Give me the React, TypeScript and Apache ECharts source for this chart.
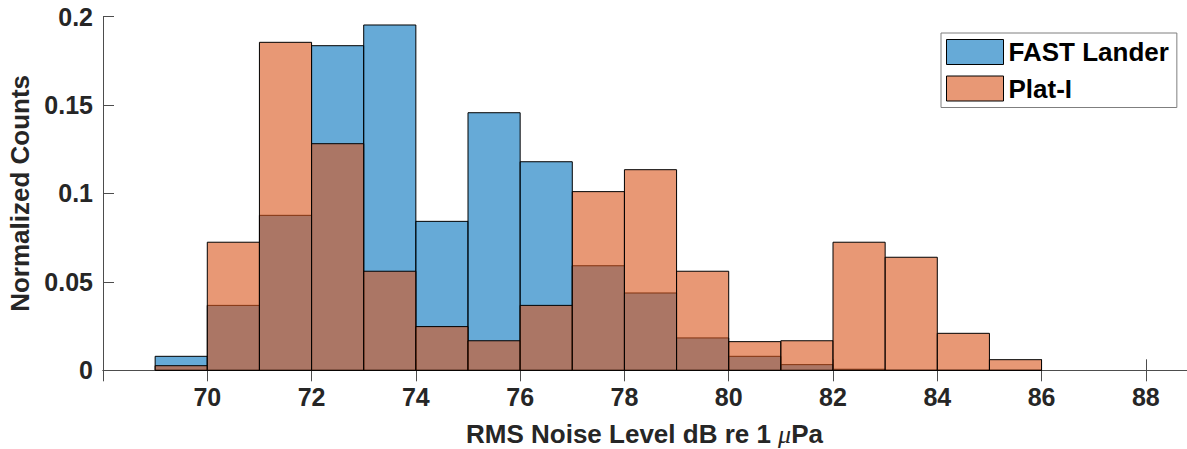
import React, { useEffect, useRef } from "react";
import * as echarts from "echarts";

const binStarts = [69, 70, 71, 72, 73, 74, 75, 76, 77, 78, 79, 80, 81, 82, 83, 84, 85];
const binWidth = 1;
const fastLander = [0.0079, 0.0367, 0.0876, 0.1835, 0.1952, 0.0842, 0.1456, 0.1179, 0.0591, 0.0437, 0.0183, 0.0079, 0.0032, 0.0006, 0, 0, 0];
const platI = [0.0026, 0.0724, 0.1854, 0.1281, 0.056, 0.0247, 0.0167, 0.0367, 0.101, 0.1134, 0.056, 0.0162, 0.0167, 0.0724, 0.0639, 0.0209, 0.006];
const seriesNames = ["FAST Lander", "Plat-I"];
const xTickLabels = [70, 72, 74, 76, 78, 80, 82, 84, 86, 88];

const BLUE = "rgba(0,114,189,0.6)";
const ORANGE = "rgba(217,83,25,0.6)";
const FONT = "'Liberation Sans', Arial, Helvetica, sans-serif";
const AXC = "#4d4d4d";
const TXT = "#262626";

function histData(vals: number[]) {
  return binStarts.map((s, i) => [s, s + binWidth, vals[i]]);
}

function renderBar(fill: string) {
  return (params: any, api: any) => {
    const x0 = api.value(0);
    const x1 = api.value(1);
    const v = api.value(2);
    const p0 = api.coord([x0, v]);
    const p1 = api.coord([x1, 0]);
    return {
      type: "rect",
      shape: { x: p0[0], y: p0[1], width: p1[0] - p0[0], height: p1[1] - p0[1] },
      style: { fill, stroke: "#000", lineWidth: 1 },
    };
  };
}

export default function App() {
  const ref = useRef<HTMLDivElement>(null);
  useEffect(() => {
    document.body.style.margin = "0";
    const chart = echarts.init(ref.current!, null, { renderer: "svg" });
    const xBase = {
      type: "value" as const,
      min: 68,
      max: 89,
      interval: 2,
      axisLine: { show: true, lineStyle: { color: AXC, width: 1 } },
      splitLine: { show: false },
    };
    const yBase = {
      type: "value" as const,
      min: 0,
      max: 0.2,
      interval: 0.05,
      axisLine: { show: true, lineStyle: { color: AXC, width: 1 } },
      splitLine: { show: false },
    };
    chart.setOption({
      animation: false,
      backgroundColor: "#fff",
      grid: { left: 103, right: -11, top: 16.5, bottom: 78.7, containLabel: false, outerBoundsMode: "none" },
      legend: {
        data: [
          { name: seriesNames[0], itemStyle: { color: BLUE, borderColor: "#000", borderWidth: 1 } },
          { name: seriesNames[1], itemStyle: { color: ORANGE, borderColor: "#000", borderWidth: 1 } },
        ],
        icon: "rect",
        orient: "vertical",
        left: 941,
        top: 33,
        itemWidth: 57,
        itemHeight: 25,
        itemGap: 10.5,
        padding: [6, 8, 6, 5],
        borderColor: "#7f7f7f",
        borderWidth: 1,
        backgroundColor: "#fff",
        textStyle: { fontFamily: FONT, fontWeight: "bold", fontSize: 26, color: "#000", padding: [0, 0, 0, 0], lineHeight: 25 },
        itemTextGap: 5,
      },
      xAxis: [
        {
          ...xBase,
          position: "bottom",
          axisTick: { show: true, inside: true, length: 11, lineStyle: { color: AXC } },
          axisLabel: {
            show: true,
            margin: 14,
            fontFamily: FONT,
            fontWeight: "bold",
            fontSize: 25,
            color: TXT,
            formatter: (v: number) => (xTickLabels.indexOf(v) >= 0 ? String(v) : ""),
          },
          name: "RMS Noise Level dB re 1 {mu|μ}Pa",
          nameLocation: "middle",
          nameGap: 51,
          nameTextStyle: {
            fontFamily: FONT,
            fontWeight: "bold",
            fontSize: 26,
            color: TXT,
            padding: [0, 12, 0, 0],
            rich: {
              mu: { fontFamily: "'Liberation Serif', 'DejaVu Serif', serif", fontStyle: "italic", fontWeight: "normal", fontSize: 26, color: TXT },
            },
          },
        },
        {
          ...xBase,
          position: "top",
          axisTick: { show: true, inside: true, length: 11, lineStyle: { color: AXC } },
          axisLabel: { show: false },
        },
      ],
      yAxis: [
        {
          ...yBase,
          position: "left",
          axisTick: { show: true, inside: true, length: 11, lineStyle: { color: AXC } },
          axisLabel: { show: true, margin: 10, fontFamily: FONT, fontWeight: "bold", fontSize: 25, color: TXT },
          name: "Normalized Counts",
          nameLocation: "middle",
          nameGap: 66,
          nameTextStyle: { fontFamily: FONT, fontWeight: "bold", fontSize: 26, color: TXT },
        },
        {
          ...yBase,
          position: "right",
          axisTick: { show: true, inside: true, length: 11, lineStyle: { color: AXC } },
          axisLabel: { show: false },
        },
      ],
      series: [
        {
          name: seriesNames[0],
          type: "custom",
          xAxisIndex: 0,
          yAxisIndex: 0,
          renderItem: renderBar(BLUE),
          itemStyle: { color: BLUE },
          encode: { x: [0, 1], y: 2 },
          data: histData(fastLander),
          z: 2,
        },
        {
          name: seriesNames[1],
          type: "custom",
          xAxisIndex: 0,
          yAxisIndex: 0,
          renderItem: renderBar(ORANGE),
          itemStyle: { color: ORANGE },
          encode: { x: [0, 1], y: 2 },
          data: histData(platI),
          z: 3,
        },
      ],
    });
    return () => chart.dispose();
  }, []);
  return <div ref={ref} style={{ width: 1187, height: 449 }} />;
}
